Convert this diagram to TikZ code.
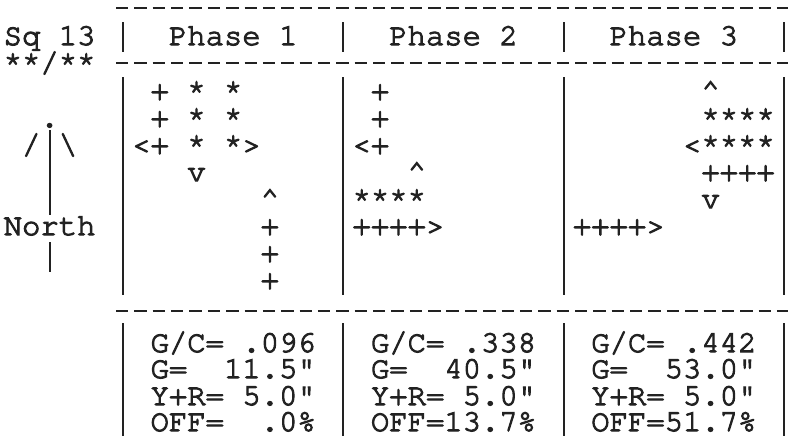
\documentclass[tikz,border=0pt]{standalone}
\usepackage{fontspec}
\newfontfamily\courfam{texgyrecursor-regular.otf}[FakeBold=3.5]
\definecolor{ink}{HTML}{222222}
\newcommand\colw{18.36}
\newcommand\colx{3.7}
\newcommand\gtxt[4]{\node[tt] (#1) at ({\colx+#2*\colw},#3) {#4};}
\begin{document}
\begin{tikzpicture}[x=0.75pt,y=-0.75pt,
  tt/.style={anchor=base west,inner sep=0pt,outer sep=0pt,text=ink,
    font=\courfam\fontsize{22.95}{27}\selectfont},
  bar/.style={draw=ink,line width=1.6pt},
  dashrow/.style={draw=ink,line width=2.1pt,dash pattern=on 9.3pt off 4.47pt}]
\useasboundingbox[fill=white] (0,0) rectangle (788,436);

% dashed rules
\draw[dashrow] (116,8) -- (788,8);
\draw[dashrow] (116,63) -- (788,63);
\draw[dashrow] (116,311) -- (788,311);

% vertical bars
\foreach \c in {6,18,30,42}{
  \draw[bar] ({\colx+(\c+0.5)*\colw},22) -- ({\colx+(\c+0.5)*\colw},52);
  \draw[bar] ({\colx+(\c+0.5)*\colw},77) -- ({\colx+(\c+0.5)*\colw},295);
  \draw[bar] ({\colx+(\c+0.5)*\colw},323) -- ({\colx+(\c+0.5)*\colw},436);
}

% header
\gtxt{sq}{0}{45}{Sq~13}
\gtxt{ph1}{9}{45}{Phase~1}
\gtxt{ph2}{21}{45}{Phase~2}
\gtxt{ph3}{33}{45}{Phase~3}
\gtxt{stars}{0}{72}{**/**}

% north arrow
\gtxt{ndot}{2}{127}{.}
\gtxt{nl}{1}{154}{/}
\gtxt{nr}{3}{154}{\textbackslash}
\gtxt{north}{0}{235}{North}
\coordinate (shaftA) at ({\colx+2.5*\colw},130);
\coordinate (shaftB) at ({\colx+2.5*\colw},215);
\coordinate (tailA) at ({\colx+2.5*\colw},242);
\coordinate (tailB) at ({\colx+2.5*\colw},272);
\draw[bar] (shaftA) -- (shaftB);
\draw[bar] (tailA) -- (tailB);

% phase 1
\gtxt{a1}{8}{100}{+~*~*}
\gtxt{a2}{8}{127}{+~*~*}
\gtxt{a3}{7}{154}{<+~*~*>}
\gtxt{a4}{10}{181}{v}
\gtxt{a5}{14}{208}{\textasciicircum}
\gtxt{a6}{14}{235}{+}
\gtxt{a7}{14}{262}{+}
\gtxt{a8}{14}{289}{+}

% phase 2
\gtxt{b1}{20}{100}{+}
\gtxt{b2}{20}{127}{+}
\gtxt{b3}{19}{154}{<+}
\gtxt{b4}{22}{181}{\textasciicircum}
\gtxt{b5}{19}{208}{****}
\gtxt{b6}{19}{235}{++++>}

% phase 3
\gtxt{c1}{38}{100}{\textasciicircum}
\gtxt{c2}{38}{127}{****}
\gtxt{c3}{37}{154}{<****}
\gtxt{c4}{38}{181}{++++}
\gtxt{c5}{38}{208}{v}
\gtxt{c6}{31}{235}{++++>}

% bottom table
\gtxt{d1}{8}{352}{G/C=~.096}
\gtxt{d2}{8}{378}{G=~~11.5"}
\gtxt{d3}{8}{405}{Y+R=~5.0"}
\gtxt{d4}{8}{431}{OFF=~~.0\%}
\gtxt{e1}{20}{352}{G/C=~.338}
\gtxt{e2}{20}{378}{G=~~40.5"}
\gtxt{e3}{20}{405}{Y+R=~5.0"}
\gtxt{e4}{20}{431}{OFF=13.7\%}
\gtxt{f1}{32}{352}{G/C=~.442}
\gtxt{f2}{32}{378}{G=~~53.0"}
\gtxt{f3}{32}{405}{Y+R=~5.0"}
\gtxt{f4}{32}{431}{OFF=51.7\%}
\end{tikzpicture}
\end{document}
